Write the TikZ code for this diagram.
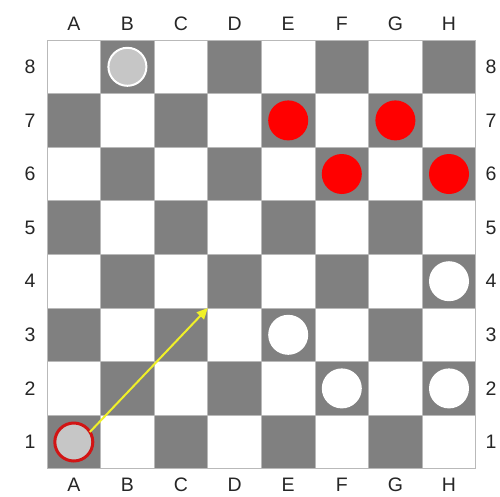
\documentclass[tikz,border=0pt]{standalone}
\usepackage{fontspec}
\setmainfont{Liberation Sans}
\usetikzlibrary{arrows.meta}
\definecolor{darksq}{RGB}{128,128,128}
\definecolor{gridln}{RGB}{185,185,185}
\definecolor{lightpc}{RGB}{198,198,198}
\definecolor{redpc}{RGB}{255,0,0}
\definecolor{ringred}{RGB}{210,20,20}
\definecolor{arrowy}{RGB}{240,240,40}
\begin{document}
\begin{tikzpicture}[x=1pt,y=-1pt,
  sq/.style={rectangle, minimum size=53.6pt, inner sep=0pt, outer sep=0pt, draw=gridln, line width=0.7pt},
  lbl/.style={font=\fontsize{19.5}{19.5}\selectfont, inner sep=0pt, text=black!85},
  pc/.style={circle, minimum size=40pt, inner sep=0pt, outer sep=0pt},
  redpiece/.style={pc, fill=redpc},
  whitepiece/.style={pc, fill=white},
  greywhite/.style={pc, minimum size=38pt, fill=lightpc, draw=white, line width=2pt},
  greyred/.style={pc, minimum size=38pt, fill=lightpc, draw=ringred, line width=3pt},
  move/.style={draw=arrowy, line width=2pt, -{Triangle[length=11pt,width=10pt]}}
]
\useasboundingbox (0,0) rectangle (500,496);
\fill[white] (0,0) rectangle (500,496);
% squares
\foreach \c in {0,...,7}{
  \foreach \r in {1,...,8}{
    \pgfmathtruncatemacro{\parity}{mod(\c+\r,2)}
    \ifnum\parity=1
      \node[sq, fill=darksq] (sq-\c-\r) at (73.8+53.6*\c, 66.8+53.6*8-53.6*\r) {};
    \else
      \node[sq, fill=white] (sq-\c-\r) at (73.8+53.6*\c, 66.8+53.6*8-53.6*\r) {};
    \fi
  }
}
\draw[gridln, line width=0.8pt] (47,40) rectangle (475.8,468.8);
% labels
\foreach \L [count=\i from 0] in {A,B,C,D,E,F,G,H}{
  \node[lbl] (top-\L) at (73.8+53.6*\i, 24) {\L};
  \node[lbl] (bot-\L) at (73.8+53.6*\i, 485) {\L};
}
\foreach \n in {1,...,8}{
  \node[lbl] (left-\n) at (30, 66.8+53.6*8-53.6*\n) {\n};
  \node[lbl] (right-\n) at (491, 66.8+53.6*8-53.6*\n) {\n};
}
% pieces
\node[greywhite] (b8) at (sq-1-8) {};
\node[redpiece] (e7) at (sq-4-7) {};
\node[redpiece] (g7) at (sq-6-7) {};
\node[redpiece] (f6) at (sq-5-6) {};
\node[redpiece] (h6) at (sq-7-6) {};
\node[whitepiece] (h4) at (sq-7-4) {};
\node[whitepiece] (e3) at (sq-4-3) {};
\node[whitepiece] (f2) at (sq-5-2) {};
\node[whitepiece] (h2) at (sq-7-2) {};
\node[greyred] (a1) at (sq-0-1) {};
% move arrow
\coordinate (tgt) at (sq-3-4.south west);
\draw[move] (a1.32) -- (tgt);
\end{tikzpicture}
\end{document}
